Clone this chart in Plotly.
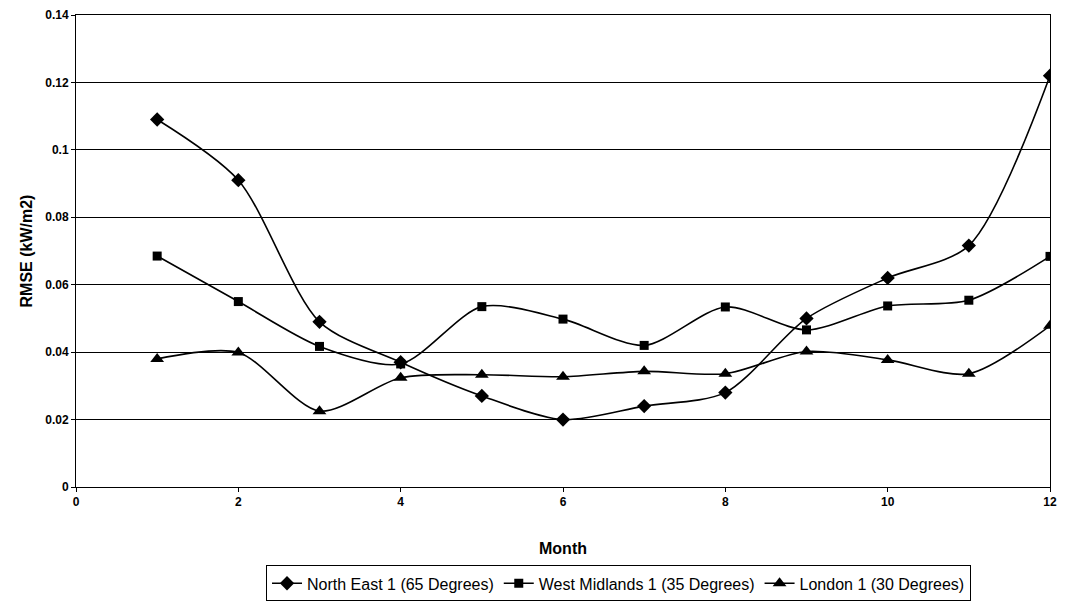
import plotly.graph_objects as go

months = [1, 2, 3, 4, 5, 6, 7, 8, 9, 10, 11, 12]
north_east = [0.109, 0.091, 0.049, 0.037, 0.027, 0.020, 0.024, 0.028, 0.050, 0.062, 0.0716, 0.122]
west_midlands = [0.0685, 0.055, 0.0417, 0.0365, 0.0535, 0.0498, 0.042, 0.0534, 0.0466, 0.0537, 0.0554, 0.0684]
london = [0.038, 0.0399, 0.0225, 0.0324, 0.0333, 0.0327, 0.0343, 0.0336, 0.0402, 0.0377, 0.0336, 0.0478]

x_ticks = [0, 2, 4, 6, 8, 10, 12]
y_ticks = [0, 0.02, 0.04, 0.06, 0.08, 0.1, 0.12, 0.14]
y_tick_labels = ["0", "0.02", "0.04", "0.06", "0.08", "0.1", "0.12", "0.14"]

series = [
    ("North East 1 (65 Degrees)", north_east, "diamond", 11),
    ("West Midlands 1 (35 Degrees)", west_midlands, "square", 9),
    ("London 1 (30 Degrees)", london, "triangle-up", 12),
]

fig = go.Figure()
for name, vals, sym, size in series:
    fig.add_trace(go.Scatter(
        x=months, y=vals, name=name, mode="lines+markers",
        line=dict(color="black", width=1.6, shape="spline", smoothing=0.8),
        marker=dict(symbol=sym, size=size, color="black"),
    ))

font_family = "Liberation Sans, Arial, sans-serif"
fig.update_layout(
    width=1063, height=600,
    margin=dict(l=68, r=21, t=7, b=121),
    plot_bgcolor="white", paper_bgcolor="white",
    font=dict(family=font_family, color="black"),
    showlegend=True,
    legend=dict(
        orientation="h", x=0.557, xanchor="center", y=-0.166, yanchor="top",
        bordercolor="black", borderwidth=1, font=dict(size=16),
        itemwidth=30, tracegroupgap=0,
    ),
    xaxis=dict(
        range=[0, 12], tickvals=x_ticks,
        ticktext=[f"<b>{t}</b>" for t in x_ticks],
        showgrid=False, zeroline=False, automargin=False,
        showline=True, linecolor="black", linewidth=1, mirror=True,
        ticks="outside", ticklen=4, tickcolor="black",
        tickfont=dict(size=12, family=font_family),
        title=dict(text="<b>Month</b>", font=dict(size=16), standoff=34),
    ),
    yaxis=dict(
        range=[0, 0.14], tickvals=y_ticks,
        ticktext=[f"<b>{t}</b>" for t in y_tick_labels],
        showgrid=True, gridcolor="black", gridwidth=1, zeroline=False,
        automargin=False,
        showline=True, linecolor="black", linewidth=1, mirror=True,
        ticks="outside", ticklen=4, tickcolor="black",
        tickfont=dict(size=12, family=font_family),
        title=dict(text="<b>RMSE (kW/m2)</b>", font=dict(size=16), standoff=8),
    ),
)

fig.write_html("out.html")
